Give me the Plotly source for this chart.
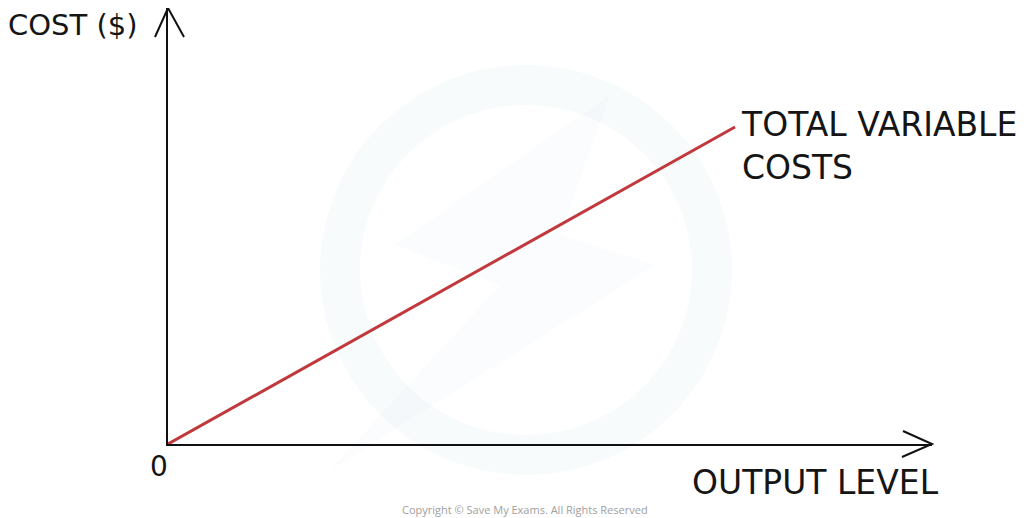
import plotly.graph_objects as go

# Data
output_level = [0, 10]
total_variable_costs = [0, 10]
line_label = "TOTAL VARIABLE<br>COSTS"
x_title = "OUTPUT LEVEL"
y_title = "COST ($)"
origin_label = "0"
copyright_text = "Copyright © Save My Exams. All Rights Reserved"

OFF = 8  # page body margin
W, H = 1032 - OFF, 518 - OFF
ml, mr, mt, mb = 168 - OFF, 100, 0, 74
pw, ph = W - ml - mr, H - mt - mb

FONT = "DejaVu Sans"
TXT = "#151515"

fig = go.Figure()
fig.add_trace(go.Scatter(
    x=output_level, y=total_variable_costs, mode="lines",
    line=dict(color="#c1393d", width=3), hoverinfo="skip", showlegend=False,
))

def px(x):
    return (x - OFF - ml) / pw

def py(y):
    return (H - mb - (y - OFF)) / ph

annotations = [
    dict(text=y_title, x=px(6), y=py(25), xanchor="left", yanchor="middle",
         font=dict(size=29, color=TXT, family=FONT)),
    dict(text=line_label, x=px(739), y=py(146), xanchor="left", yanchor="middle",
         align="left", font=dict(size=33, color=TXT, family=FONT)),
    dict(text=x_title, x=px(815), y=py(482), xanchor="center", yanchor="middle",
         font=dict(size=33, color=TXT, family=FONT)),
    dict(text=origin_label, x=px(159), y=py(466), xanchor="center", yanchor="middle",
         font=dict(size=28, color=TXT, family=FONT)),
    dict(text=copyright_text, x=px(525), y=py(509), xanchor="center", yanchor="middle",
         font=dict(size=11, color="#a0a0a0", family="Open Sans")),
]
for a in annotations:
    a.update(xref="paper", yref="paper", showarrow=False)

shapes = [
    # watermark ring
    dict(type="circle", xref="paper", yref="paper",
         x0=px(340), x1=px(712), y0=py(455), y1=py(85),
         line=dict(color="rgba(225,235,242,0.22)", width=40), layer="below"),
    # watermark bolt
    dict(type="path", xref="paper", yref="paper",
         path=f"M {px(610)},{py(95)} L {px(395)},{py(245)} L {px(500)},{py(285)} "
              f"L {px(330)},{py(470)} L {px(655)},{py(265)} L {px(560)},{py(235)} Z",
         fillcolor="rgba(228,236,242,0.16)", line=dict(width=0), layer="below"),
    # arrowheads
    dict(type="path", xref="paper", yref="paper", xsizemode="pixel", ysizemode="pixel",
         xanchor=0, yanchor=1, path="M -13,-29 L 0,0 L 16,-29",
         line=dict(color="#111", width=2)),
    dict(type="path", xref="paper", yref="paper", xsizemode="pixel", ysizemode="pixel",
         xanchor=1, yanchor=0, path="M -29,13 L 0,0 L -30,-13",
         line=dict(color="#111", width=2)),
]

x_scale = 56.7
y_scale = 31.7
fig.update_layout(
    width=W, height=H,
    margin=dict(l=ml, r=mr, t=mt, b=mb, pad=0),
    paper_bgcolor="white", plot_bgcolor="white",
    xaxis=dict(range=[0, pw / x_scale], showline=True, linecolor="#111", linewidth=2,
               showgrid=False, zeroline=False, showticklabels=False, ticks=""),
    yaxis=dict(range=[0, ph / y_scale], showline=True, linecolor="#111", linewidth=2,
               showgrid=False, zeroline=False, showticklabels=False, ticks=""),
    annotations=annotations, shapes=shapes, showlegend=False,
)
fig.write_html("out.html")
